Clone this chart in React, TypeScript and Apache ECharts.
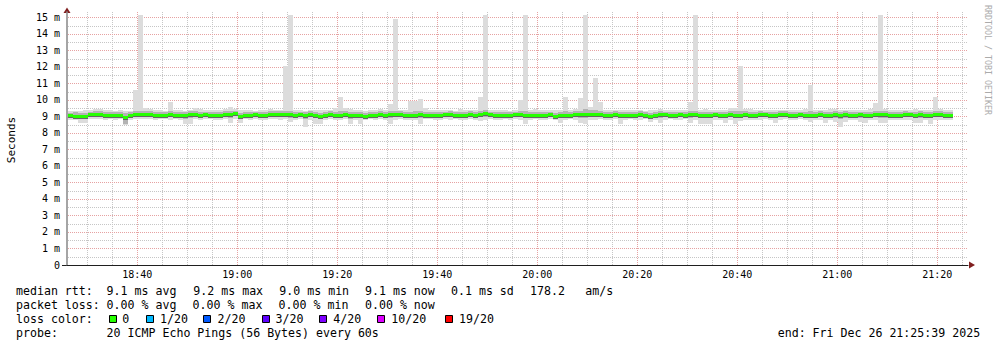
import React, { useEffect, useRef } from 'react';
import * as echarts from 'echarts';

// ---- data (milliseconds, one sample per 60 s step) ----
const START_TIME = '18:26:08';
const STEP_MIN = 1;

const MEDIAN = [
  9.06, 9.05, 9.01, 9.00, 9.12, 9.13, 9.12, 9.10, 9.11, 9.09,
  9.11, 8.99, 9.06, 9.15, 9.16, 9.17, 9.14, 9.10, 9.07, 9.08,
  9.12, 9.11, 9.10, 9.06, 9.13, 9.14, 9.10, 9.12, 9.07, 9.08,
  9.11, 9.15, 9.13, 9.18, 9.05, 9.11, 9.10, 9.12, 9.08, 9.07,
  9.13, 9.14, 9.16, 9.17, 9.15, 9.10, 9.12, 9.08, 9.13, 9.10,
  9.05, 9.09, 9.13, 9.08, 9.11, 9.12, 9.06, 9.10, 9.11, 9.04,
  9.08, 9.10, 9.12, 9.07, 9.16, 9.15, 9.13, 9.08, 9.09, 9.11,
  9.12, 9.06, 9.10, 9.07, 9.09, 9.12, 9.14, 9.10, 9.08, 9.11,
  9.13, 9.09, 9.15, 9.18, 9.12, 9.10, 9.08, 9.11, 9.07, 9.12,
  9.13, 9.10, 9.09, 9.11, 9.08, 9.10, 9.12, 9.05, 9.09, 9.11,
  9.10, 9.14, 9.17, 9.15, 9.16, 9.14, 9.12, 9.10, 9.11, 9.13,
  9.10, 9.09, 9.07, 9.11, 9.13, 9.10, 9.05, 9.11, 9.14, 9.12,
  9.10, 9.08, 9.12, 9.10, 9.13, 9.16, 9.11, 9.09, 9.10, 9.12,
  9.07, 9.08, 9.12, 9.11, 9.10, 9.13, 9.09, 9.11, 9.14, 9.12,
  9.08, 9.09, 9.13, 9.15, 9.11, 9.10, 9.12, 9.09, 9.11, 9.10,
  9.13, 9.08, 9.10, 9.12, 9.11, 9.14, 9.10, 9.08, 9.12, 9.11,
  9.09, 9.12, 9.15, 9.13, 9.10, 9.11, 9.09, 9.13, 9.12, 9.10,
  9.14, 9.11, 9.08, 9.12, 9.13, 9.10, 9.11,
];

const MIN_RTT = [
  8.80, 8.78, 8.58, 8.60, 8.86, 8.84, 8.82, 8.80, 8.83, 8.78,
  8.82, 8.50, 8.80, 8.84, 8.82, 8.86, 8.83, 8.80, 8.82, 8.84,
  8.80, 8.82, 8.78, 8.55, 8.55, 8.84, 8.80, 8.82, 8.85, 8.80,
  8.80, 8.82, 8.60, 8.84, 8.60, 8.82, 8.80, 8.83, 8.80, 8.78,
  8.82, 8.84, 8.80, 8.82, 8.65, 8.80, 8.83, 8.34, 8.80, 8.55,
  8.55, 8.80, 8.82, 8.78, 8.80, 8.82, 8.55, 8.80, 8.55, 8.75,
  8.82, 8.80, 8.83, 8.80, 8.55, 8.78, 8.82, 8.80, 8.78, 8.80,
  8.55, 8.82, 8.84, 8.80, 8.78, 8.82, 8.80, 8.83, 8.78, 8.80,
  8.82, 8.80, 8.70, 8.78, 8.82, 8.75, 8.80, 8.82, 8.80, 8.84,
  8.80, 8.55, 8.80, 8.82, 8.78, 8.80, 8.82, 8.80, 8.58, 8.80,
  8.82, 8.80, 8.58, 8.55, 8.78, 8.80, 8.82, 8.80, 8.78, 8.82,
  8.55, 8.80, 8.82, 8.78, 8.80, 8.82, 8.65, 8.80, 8.62, 8.80,
  8.82, 8.78, 8.80, 8.82, 8.62, 8.75, 8.55, 8.55, 8.55, 8.80,
  8.78, 8.62, 8.80, 8.55, 8.72, 8.80, 8.75, 8.78, 8.80, 8.82,
  8.75, 8.58, 8.80, 8.82, 8.78, 8.80, 8.82, 8.78, 8.65, 8.80,
  8.78, 8.60, 8.80, 8.65, 8.36, 8.65, 8.80, 8.78, 8.65, 8.62,
  8.80, 8.78, 8.58, 8.58, 8.80, 8.75, 8.75, 8.80, 8.78, 8.58,
  8.60, 8.80, 8.55, 8.78, 8.80, 8.78, 8.80,
];

const LOW_Q = [
  8.92, 8.90, 8.85, 8.86, 8.95, 8.96, 8.94, 8.93, 8.95, 8.90,
  8.94, 8.55, 8.92, 8.97, 8.96, 8.98, 8.95, 8.93, 8.90, 8.92,
  8.95, 8.94, 8.92, 8.86, 8.88, 8.96, 8.93, 8.95, 8.90, 8.92,
  8.93, 8.96, 8.88, 9.00, 8.88, 8.94, 8.93, 8.95, 8.91, 8.90,
  8.95, 8.96, 8.97, 8.98, 8.92, 8.93, 8.95, 8.85, 8.95, 8.88,
  8.86, 8.92, 8.95, 8.91, 8.93, 8.94, 8.85, 8.93, 8.88, 8.88,
  8.92, 8.93, 8.95, 8.90, 8.90, 8.96, 8.95, 8.91, 8.92, 8.93,
  8.88, 8.90, 8.93, 8.90, 8.92, 8.95, 8.96, 8.93, 8.91, 8.94,
  8.95, 8.92, 8.96, 8.98, 8.95, 8.90, 8.91, 8.94, 8.90, 8.95,
  8.95, 8.88, 8.92, 8.94, 8.91, 8.93, 8.95, 8.88, 8.88, 8.93,
  8.93, 8.96, 8.92, 8.90, 8.97, 8.96, 8.95, 8.93, 8.94, 8.95,
  8.88, 8.92, 8.90, 8.93, 8.95, 8.93, 8.88, 8.94, 8.92, 8.95,
  8.93, 8.90, 8.95, 8.93, 8.92, 8.97, 8.88, 8.88, 8.88, 8.94,
  8.90, 8.90, 8.95, 8.88, 8.92, 8.95, 8.91, 8.93, 8.96, 8.94,
  8.90, 8.88, 8.95, 8.97, 8.93, 8.92, 8.95, 8.92, 8.92, 8.93,
  8.95, 8.90, 8.92, 8.92, 8.86, 8.92, 8.93, 8.90, 8.92, 8.92,
  8.92, 8.94, 8.90, 8.90, 8.93, 8.91, 8.90, 8.95, 8.94, 8.90,
  8.92, 8.93, 8.88, 8.94, 8.95, 8.92, 8.93,
];

const HIGH_Q = [
  9.22, 9.24, 9.20, 9.22, 9.28, 9.30, 9.30, 9.26, 9.27, 9.25,
  9.28, 9.20, 9.24, 9.32, 9.35, 9.33, 9.30, 9.27, 9.24, 9.25,
  9.30, 9.28, 9.26, 9.24, 9.30, 9.32, 9.27, 9.28, 9.24, 9.25,
  9.28, 9.32, 9.30, 9.34, 9.22, 9.28, 9.27, 9.29, 9.25, 9.24,
  9.30, 9.31, 9.33, 9.34, 9.33, 9.26, 9.28, 9.25, 9.30, 9.27,
  9.22, 9.26, 9.30, 9.28, 9.32, 9.30, 9.24, 9.27, 9.28, 9.22,
  9.25, 9.27, 9.30, 9.24, 9.34, 9.33, 9.30, 9.25, 9.28, 9.30,
  9.30, 9.24, 9.27, 9.24, 9.26, 9.29, 9.31, 9.27, 9.25, 9.28,
  9.30, 9.26, 9.33, 9.36, 9.29, 9.27, 9.25, 9.28, 9.24, 9.29,
  9.31, 9.30, 9.26, 9.28, 9.25, 9.27, 9.29, 9.22, 9.26, 9.30,
  9.27, 9.31, 9.35, 9.45, 9.40, 9.36, 9.30, 9.27, 9.28, 9.30,
  9.27, 9.26, 9.24, 9.28, 9.30, 9.27, 9.22, 9.28, 9.31, 9.29,
  9.27, 9.25, 9.29, 9.27, 9.31, 9.34, 9.28, 9.26, 9.27, 9.29,
  9.24, 9.25, 9.30, 9.30, 9.32, 9.30, 9.26, 9.28, 9.31, 9.29,
  9.25, 9.26, 9.30, 9.32, 9.28, 9.27, 9.29, 9.26, 9.30, 9.27,
  9.30, 9.25, 9.27, 9.30, 9.28, 9.31, 9.27, 9.25, 9.29, 9.28,
  9.26, 9.30, 9.33, 9.30, 9.27, 9.28, 9.26, 9.30, 9.29, 9.27,
  9.31, 9.28, 9.25, 9.30, 9.30, 9.27, 9.28,
];

const MAX_RTT = [
  9.35, 9.33, 9.30, 9.38, 9.40, 9.42, 9.45, 9.38, 9.36, 9.35,
  9.38, 9.32, 9.35, 10.60, 15.16, 9.48, 9.42, 9.38, 9.36, 9.34,
  9.85, 9.40, 9.38, 9.35, 9.40, 9.50, 9.42, 9.38, 9.36, 9.40,
  9.38, 9.42, 9.55, 9.45, 9.36, 9.38, 9.40, 9.35, 9.38, 9.36,
  9.42, 9.38, 9.40, 12.07, 15.16, 9.36, 9.38, 9.35, 9.40, 9.38,
  9.36, 9.38, 9.40, 9.50, 10.17, 9.50, 9.42, 9.38, 9.36, 9.35,
  9.38, 9.36, 9.42, 9.40, 9.77, 14.90, 9.38, 9.36, 9.95, 9.95,
  10.05, 9.50, 9.38, 9.36, 9.40, 9.38, 9.36, 9.35, 9.42, 9.38,
  9.40, 9.38, 10.17, 15.16, 9.40, 9.38, 9.36, 9.38, 9.35, 9.40,
  10.00, 15.16, 9.38, 9.42, 9.36, 9.38, 9.40, 9.36, 9.38, 10.17,
  9.38, 9.42, 10.10, 15.16, 9.55, 11.33, 9.87, 9.40, 9.36, 9.38,
  9.36, 9.38, 9.40, 9.36, 9.38, 9.35, 9.38, 9.36, 9.42, 9.38,
  9.36, 9.38, 9.40, 9.38, 9.90, 15.16, 9.38, 9.42, 9.36, 9.38,
  9.36, 9.40, 9.48, 9.50, 12.07, 9.45, 9.42, 9.40, 9.38, 9.36,
  9.38, 9.36, 9.40, 9.38, 9.36, 9.38, 9.40, 9.42, 10.92, 9.38,
  9.36, 9.38, 9.42, 9.45, 9.36, 9.38, 9.36, 9.38, 9.36, 9.38,
  9.45, 9.80, 15.16, 9.42, 9.38, 9.36, 9.38, 9.36, 9.38, 9.42,
  9.38, 9.36, 9.38, 10.17, 9.42, 9.38, 9.36,
];

const X_TICK_LABELS = ['18:40', '19:00', '19:20', '19:40', '20:00', '20:20', '20:40', '21:00', '21:20'];
const Y_TICK_LABELS = ['0', '1 m', '2 m', '3 m', '4 m', '5 m', '6 m', '7 m', '8 m', '9 m', '10 m', '11 m', '12 m', '13 m', '14 m', '15 m'];

const RTT_STATS = ['9.1 ms avg', '9.2 ms max', '9.0 ms min', '9.1 ms now', '0.1 ms sd', '178.2', 'am/s'];
const LOSS_STATS = ['0.00 % avg', '0.00 % max', '0.00 % min', '0.00 % now'];
const LOSS_LABELS = ['0', '1/20', '2/20', '3/20', '4/20', '10/20', '19/20'];
const LOSS_COLORS = ['#26ff00', '#00b8ff', '#0059ff', '#5e00ff', '#7e00ff', '#dd00ff', '#ff0000'];
const PROBE_TEXT = '20 ICMP Echo Pings (56 Bytes) every 60s';
const END_TEXT = 'end: Fri Dec 26 21:25:39 2025';

// ---- layout ----
const toMin = (s: string) => {
  const p = s.split(':').map(Number);
  return p[0] * 60 + p[1] + (p[2] || 0) / 60;
};
const XMIN = toMin('18:25:56');
const XMAX = toMin('21:26:08');
const YMAX = 15.32;
const MONO = '"DejaVu Sans Mono", monospace';
const LEG_FS = 11.6;
const LEFT = 16;
const ROW_Y = [291, 305, 319.2, 333.2];
const RTT_X = [106.6, 193.3, 279.3, 365, 451, 530, 585.3];
const LOSS_X = [106.6, 192.6, 278.6, 365];
const SWATCH_X = [108.7, 145.7, 203.3, 261.7, 319.3, 377.3, 445];
const SWATCH_LABEL_X = [122.3, 160, 217.6, 275.6, 333.3, 391.3, 459];

export default function App() {
  const ref = useRef<HTMLDivElement>(null);
  useEffect(() => {
    document.body.style.margin = '0';
    if (!ref.current) return;
    const chart = echarts.init(ref.current, null, { renderer: 'svg' });
    const start = toMin(START_TIME);
    const n = Math.min(MEDIAN.length, MIN_RTT.length, LOW_Q.length, HIGH_Q.length, MAX_RTT.length);
    const smoke: number[][] = [];
    for (let i = 0; i < n; i++) {
      smoke.push([start + i * STEP_MIN, MIN_RTT[i], LOW_Q[i], MEDIAN[i], HIGH_Q[i], MAX_RTT[i]]);
    }
    const xTicks = X_TICK_LABELS.map(toMin);

    const vGrid: number[][] = [];
    for (let m = Math.ceil(XMIN / 5) * 5; m <= XMAX; m += 5) vGrid.push([m, 1, m % 20 === 0 ? 1 : 0]);
    const hGrid: number[][] = [];
    for (let k = 1; k * 0.5 <= YMAX; k++) hGrid.push([XMIN + 1, k * 0.5, k % 2 === 0 ? 1 : 0]);

    const MINOR = '#c6c6c6';
    const MAJOR = '#e6a2a2';

    const graphic: any[] = [];
    const txt = (x: number, y: number, text: string, extra: any = {}) => ({
      type: 'text', x, y, silent: true,
      style: { text, fill: '#000', fontSize: LEG_FS, fontFamily: MONO, verticalAlign: 'middle', align: 'left', ...extra },
    });
    graphic.push(txt(LEFT, ROW_Y[0], 'median rtt:'));
    RTT_STATS.forEach((s, i) => graphic.push(txt(RTT_X[i], ROW_Y[0], s)));
    graphic.push(txt(LEFT, ROW_Y[1], 'packet loss:'));
    LOSS_STATS.forEach((s, i) => graphic.push(txt(LOSS_X[i], ROW_Y[1], s)));
    graphic.push(txt(LEFT, ROW_Y[2], 'loss color:'));
    LOSS_LABELS.forEach((s, i) => {
      graphic.push({
        type: 'rect', silent: true,
        shape: { x: Math.round(SWATCH_X[i]) + 0.5, y: 315.5, width: 7, height: 7 },
        style: { fill: LOSS_COLORS[i], stroke: '#000', lineWidth: 1 },
      });
      graphic.push(txt(SWATCH_LABEL_X[i], ROW_Y[2], s));
    });
    graphic.push(txt(LEFT, ROW_Y[3], 'probe:'));
    graphic.push(txt(106.6, ROW_Y[3], PROBE_TEXT));
    graphic.push(txt(777.7, ROW_Y[3], END_TEXT));
    // axis title and watermark
    graphic.push({
      type: 'text', x: 11.5, y: 140, rotation: Math.PI / 2, silent: true,
      style: { text: 'Seconds', fill: '#000', fontSize: 11, fontFamily: MONO, align: 'center', verticalAlign: 'middle' },
    });
    graphic.push({
      type: 'text', x: 988, y: 60, rotation: -Math.PI / 2, silent: true,
      style: { text: 'RRDTOOL / TOBI OETIKER', fill: '#ababab', fontSize: 8.3, fontFamily: MONO, align: 'center', verticalAlign: 'middle' },
    });
    // axis arrows
    graphic.push({ type: 'polygon', silent: true, shape: { points: [[63.5, 13], [70.5, 13], [67, 7.5]] }, style: { fill: '#801f1f' } });
    graphic.push({ type: 'polygon', silent: true, shape: { points: [[969, 261.5], [969, 268.5], [975, 265]] }, style: { fill: '#801f1f' } });
    graphic.push({ type: 'line', silent: true, shape: { x1: 62, y1: 265.5, x2: 67, y2: 265.5 }, style: { stroke: '#1f1f1f', lineWidth: 1 } });

    const gridLine = (horizontal: boolean) => (params: any, api: any) => {
      const major = api.value(2) === 1;
      let shape;
      if (horizontal) {
        const v = api.value(1);
        const a = api.coord([XMIN, v]);
        const b = api.coord([XMAX, v]);
        const y = Math.round(a[1]) + 0.5;
        shape = { x1: a[0] + 1, y1: y, x2: b[0], y2: y };
      } else {
        const v = api.value(0);
        const a = api.coord([v, 0]);
        const b = api.coord([v, YMAX]);
        const x = Math.round(a[0]) + 0.5;
        shape = { x1: x, y1: a[1], x2: x, y2: b[1] };
      }
      return {
        type: 'line', shape, silent: true,
        style: { stroke: major ? MAJOR : MINOR, lineWidth: 1, lineDash: [1, 1] },
      };
    };

    chart.setOption({
      animation: false,
      backgroundColor: '#ffffff',
      grid: { left: 67, top: 12, width: 901, height: 253, containLabel: false, outerBoundsMode: 'none' },
      xAxis: {
        type: 'value', min: XMIN, max: XMAX,
        axisLine: { show: true, lineStyle: { color: '#1f1f1f', width: 1 } },
        axisTick: { show: false },
        splitLine: { show: false },
        axisLabel: {
          customValues: xTicks,
          margin: 4,
          color: '#000', fontSize: 10, fontFamily: MONO,
          formatter: (v: number) => {
            const i = xTicks.findIndex((t) => Math.abs(t - v) < 1e-6);
            return i >= 0 ? X_TICK_LABELS[i] : '';
          },
        },
      },
      yAxis: {
        type: 'value', min: 0, max: YMAX, interval: 1,
        axisLine: { show: true, lineStyle: { color: '#8f8f8f', width: 1.6 } },
        axisTick: { show: false },
        splitLine: { show: false },
        axisLabel: {
          margin: 7, color: '#000', fontSize: 10, fontFamily: MONO,
          formatter: (v: number) => (Number.isInteger(v) && Y_TICK_LABELS[v] !== undefined ? Y_TICK_LABELS[v] : ''),
        },
      },
      graphic,
      series: [
        { type: 'custom', data: vGrid, renderItem: gridLine(false), z: 1, silent: true },
        { type: 'custom', data: hGrid, renderItem: gridLine(true), z: 1, silent: true },
        {
          type: 'custom', data: smoke, z: 2, silent: true,
          renderItem: (params: any, api: any) => {
            const t = api.value(0);
            const x0 = Math.round(api.coord([t, 0])[0]);
            const x1 = Math.round(api.coord([t + STEP_MIN, 0])[0]);
            const w = x1 - x0;
            const py = (v: number) => Math.round(api.coord([t, v])[1]);
            const yMin = py(api.value(1));
            const yLo = py(api.value(2));
            const yMed = py(api.value(3));
            const yHi = py(api.value(4));
            const yMax = py(api.value(5));
            return {
              type: 'group',
              children: [
                { type: 'rect', shape: { x: x0, y: yMax, width: w, height: yMin - yMax }, style: { fill: '#dcdcdc' } },
                { type: 'rect', shape: { x: x0, y: yHi, width: w, height: yLo - yHi }, style: { fill: '#b3b3b3' } },
                { type: 'rect', shape: { x: x0, y: yMed - 1, width: w, height: 4 }, style: { fill: '#666666' } },
                { type: 'rect', shape: { x: x0, y: yMed - 1, width: w, height: 3 }, style: { fill: LOSS_COLORS[0] } },
              ],
            };
          },
        },
      ],
    });
    return () => chart.dispose();
  }, []);
  return <div ref={ref} style={{ width: 997, height: 347 }} />;
}
